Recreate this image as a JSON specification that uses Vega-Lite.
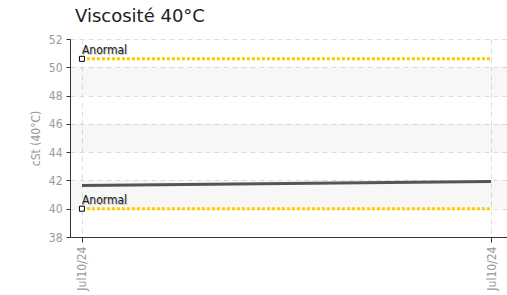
{
  "$schema": "https://vega.github.io/schema/vega-lite/v6.json",
  "width": 437,
  "height": 198,
  "autosize": {"type": "none"},
  "padding": {"left": 70, "top": 39, "right": 0, "bottom": 58},
  "background": "white",
  "title": {
    "text": "Viscosité 40°C",
    "anchor": "start",
    "frame": "group",
    "dx": 5,
    "offset": 7,
    "font": "DejaVu Sans",
    "fontSize": 18,
    "fontWeight": "normal",
    "color": "#222222"
  },
  "config": {
    "view": {"stroke": null},
    "axis": {
      "labelFont": "Liberation Sans Narrow, DejaVu Sans Condensed, Roboto, sans-serif",
      "titleFont": "Liberation Sans Narrow, DejaVu Sans Condensed, Roboto, sans-serif",
      "labelColor": "#999999",
      "titleColor": "#999999",
      "labelFontSize": 12,
      "titleFontSize": 12,
      "titleFontWeight": "normal",
      "domainColor": "#333333",
      "tickColor": "#333333",
      "gridColor": "#dddddd",
      "gridDash": [5, 4],
      "labelOverlap": false
    }
  },
  "datasets": {
    "bands": [
      {"lo": 40, "hi": 42},
      {"lo": 44, "hi": 46},
      {"lo": 48, "hi": 50}
    ],
    "visc": [
      {"date": "2024-07-10T06:00:00", "value": 41.65},
      {"date": "2024-07-10T18:00:00", "value": 41.92}
    ],
    "limits": [
      {"limit": "haut", "date": "2024-07-10T06:00:00", "value": 50.6, "label": "Anormal"},
      {"limit": "haut", "date": "2024-07-10T18:00:00", "value": 50.6, "label": ""},
      {"limit": "bas", "date": "2024-07-10T06:00:00", "value": 40.0, "label": "Anormal"},
      {"limit": "bas", "date": "2024-07-10T18:00:00", "value": 40.0, "label": ""}
    ]
  },
  "encoding": {
    "x": {
      "field": "date",
      "type": "temporal",
      "scale": {
        "domain": [
          {"year": 2024, "month": 7, "date": 10, "hours": 5, "minutes": 39},
          {"year": 2024, "month": 7, "date": 10, "hours": 18, "minutes": 28}
        ]
      },
      "axis": {
        "title": null,
        "values": [
          {"year": 2024, "month": 7, "date": 10, "hours": 6},
          {"year": 2024, "month": 7, "date": 10, "hours": 18}
        ],
        "format": "%b%d/%y",
        "labelAngle": -90,
        "labelAlign": "right",
        "labelBaseline": "middle",
        "labelOverlap": false,
        "tickSize": 5,
        "labelPadding": 4,
        "grid": true
      }
    }
  },
  "layer": [
    {
      "data": {"name": "bands"},
      "mark": {"type": "rect", "fill": "#000000", "fillOpacity": 0.03},
      "encoding": {
        "x": null,
        "y": {
          "field": "lo",
          "type": "quantitative",
          "scale": {"domain": [38, 52], "nice": false, "zero": false},
          "axis": {
            "title": "cSt (40°C)",
            "values": [38, 40, 42, 44, 46, 48, 50, 52],
            "tickCount": 10,
            "labelOverlap": false,
            "labelFontSize": 12,
            "tickSize": 4,
            "labelPadding": 4,
            "titlePadding": 6,
            "grid": true
          }
        },
        "y2": {"field": "hi"}
      }
    },
    {
      "data": {"name": "visc"},
      "mark": {"type": "line", "color": "#555555", "strokeWidth": 3},
      "encoding": {
        "y": {"field": "value", "type": "quantitative"}
      }
    },
    {
      "data": {"name": "limits"},
      "mark": {"type": "line", "color": "#FFCC00", "strokeWidth": 3, "strokeDash": [3, 2]},
      "encoding": {
        "y": {"field": "value", "type": "quantitative"},
        "detail": {"field": "limit"}
      }
    },
    {
      "data": {"name": "limits"},
      "transform": [{"filter": "datum.label != ''"}],
      "mark": {"type": "point", "shape": "square", "size": 25, "filled": true, "fill": "white", "stroke": "#000000", "strokeWidth": 1, "opacity": 1},
      "encoding": {
        "y": {"field": "value", "type": "quantitative"}
      }
    },
    {
      "data": {"name": "limits"},
      "transform": [{"filter": "datum.label != ''"}],
      "mark": {"type": "text", "align": "left", "baseline": "alphabetic", "dx": 1, "dy": -4, "font": "Liberation Sans Narrow, DejaVu Sans Condensed, sans-serif", "fontSize": 12, "color": "#bbbbbb"},
      "encoding": {
        "y": {"field": "value", "type": "quantitative"},
        "text": {"field": "label"}
      }
    },
    {
      "data": {"name": "limits"},
      "transform": [{"filter": "datum.label != ''"}],
      "mark": {"type": "text", "align": "left", "baseline": "alphabetic", "dx": 0, "dy": -5, "font": "Liberation Sans Narrow, DejaVu Sans Condensed, sans-serif", "fontSize": 12, "color": "#222222"},
      "encoding": {
        "y": {"field": "value", "type": "quantitative"},
        "text": {"field": "label"}
      }
    }
  ]
}
